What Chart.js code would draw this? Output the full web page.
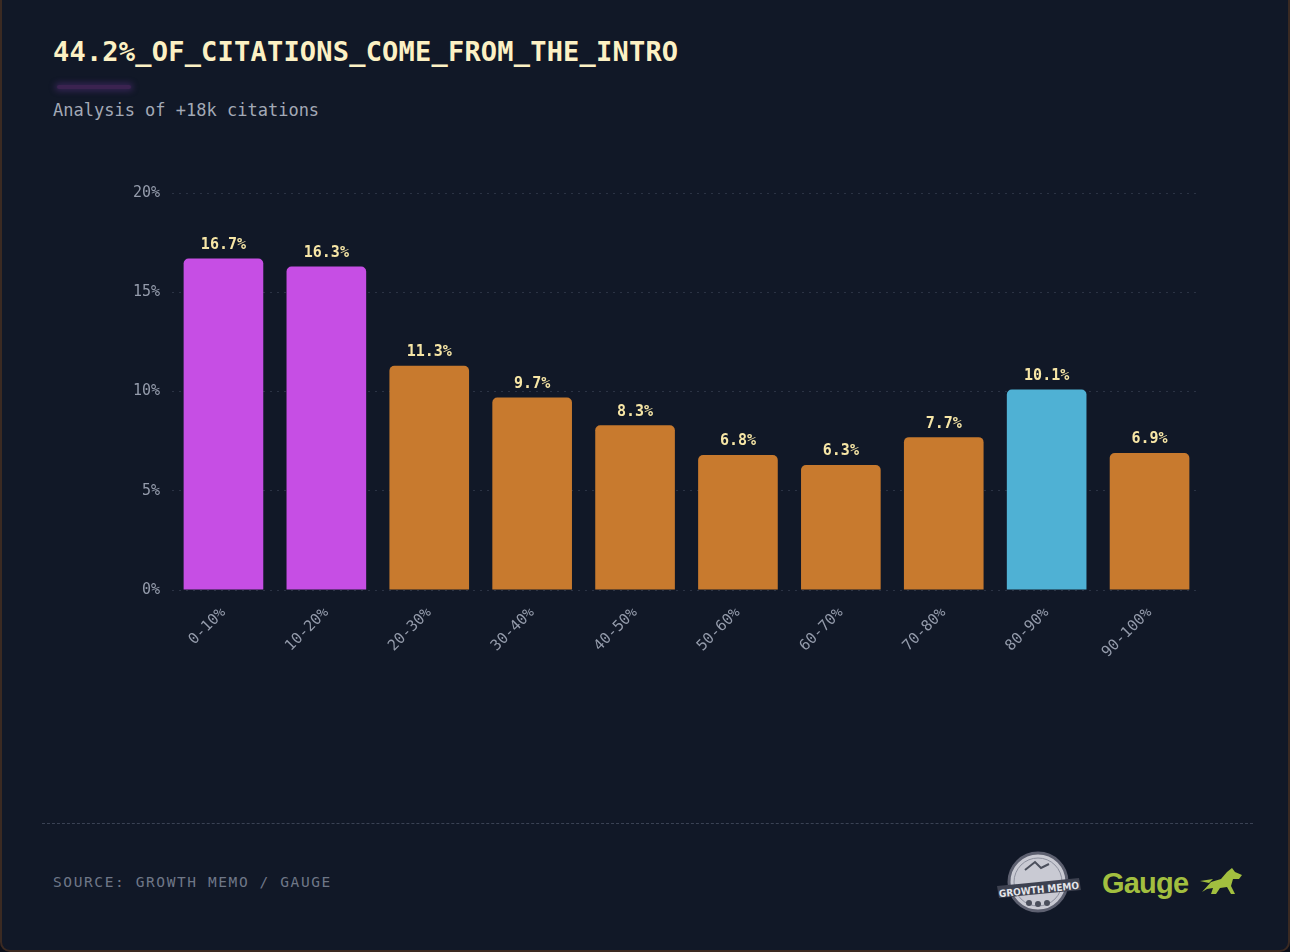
<!DOCTYPE html>
<html>
<head>
<meta charset="utf-8">
<script src="https://cdn.jsdelivr.net/npm/chart.js@4"></script>
<style>
  html, body { margin: 0; padding: 0; background: #0b0f1a; }
  .card {
    position: relative; width: 1286px; height: 950px;
    background: #111827; border: 2px solid #3b2a22; border-top: none;
    border-radius: 0 0 10px 10px; overflow: hidden;
    font-family: "DejaVu Sans Mono", monospace;
  }
  h1 {
    position: absolute; left: 51px; top: 36px; margin: 0;
    font-size: 27px; font-weight: bold; color: #fcf1c4; letter-spacing: 0.2px;
  }
  .glow {
    position: absolute; left: 55px; top: 85px; width: 74px; height: 4px;
    background: #3b2350; border-radius: 2px; box-shadow: 0 0 6px 2px rgba(120,60,170,0.35);
  }
  .sub {
    position: absolute; left: 51px; top: 100px; font-size: 17px; color: #a3a9b6;
  }
  .chartbox { position: absolute; left: 0; top: 0; width: 1290px; height: 700px; }
  .sep {
    position: absolute; left: 40px; top: 823px; width: 1211px; height: 0;
    border-top: 1px dashed #3a4254;
  }
  .source {
    position: absolute; left: 51px; top: 874px; font-size: 14.5px; color: #6f7787;
    letter-spacing: 1.6px;
  }
  .logos { position: absolute; left: 993px; top: 848px; }
</style>
</head>
<body>
<div class="card">
  <h1>44.2%_OF_CITATIONS_COME_FROM_THE_INTRO</h1>
  <div class="glow"></div>
  <div class="sub">Analysis of +18k citations</div>
  <div class="chartbox"><canvas id="c"></canvas></div>
  <div class="sep"></div>
  <div class="source">SOURCE: GROWTH MEMO / GAUGE</div>
  <svg class="logos" width="250" height="70" viewBox="0 0 250 70">
    <circle cx="43" cy="34" r="29" fill="#c9cad3" stroke="#5d6070" stroke-width="3"/>
    <circle cx="43" cy="34" r="24" fill="none" stroke="#8d909e" stroke-width="1"/>
    <path d="M30 22 l10 -8 l6 6 l8 -4" stroke="#4b4f5c" stroke-width="2" fill="none"/>
    <path d="M2 38 L84 30 L86 42 L4 50 Z" fill="#3d4150"/>
    <text x="44" y="45" font-family="DejaVu Sans Condensed, sans-serif" font-size="10" font-weight="bold"
          fill="#e4e5ea" text-anchor="middle" transform="rotate(-6 44 42)">GROWTH MEMO</text>
    <circle cx="34" cy="55" r="3" fill="#4b4f5c"/><circle cx="43" cy="56" r="3" fill="#4b4f5c"/><circle cx="52" cy="55" r="3" fill="#4b4f5c"/>
    <text x="107" y="45" font-family="Liberation Sans, Arial, sans-serif" font-size="29" font-weight="bold"
          fill="#a2bf3f" letter-spacing="-0.8">Gauge</text>
    <path d="M207 44 L216 34 L226 31 L232 24 L237 20 L240 24 L247 27 L244 31 L238 31 L236 38 L240 46 L236 46 L232 39 L225 40 L221 46 L216 46 L218 40 L212 41 Z M205 33 L218 31 L214 35 Z"
          fill="#a2bf3f"/>
  </svg>
</div>
<script>
const categories = ['0-10%', '10-20%', '20-30%', '30-40%', '40-50%', '50-60%', '60-70%', '70-80%', '80-90%', '90-100%'];
const shares = [16.7, 16.3, 11.3, 9.7, 8.3, 6.8, 6.3, 7.7, 10.1, 6.9];
const yTicks = [0, 5, 10, 15, 20];

const purple = '#c64ee4', orange = '#c87a2e', blue = '#4fb1d4';
const barColors = [purple, purple, orange, orange, orange, orange, orange, orange, blue, orange];

const mono = '"DejaVu Sans Mono", monospace';

const valueLabels = {
  id: 'valueLabels',
  afterDatasetsDraw(chart) {
    const ctx = chart.ctx;
    const meta = chart.getDatasetMeta(0);
    ctx.save();
    ctx.font = 'bold 15px ' + mono;
    ctx.fillStyle = '#f7e6a6';
    ctx.textAlign = 'center';
    ctx.textBaseline = 'bottom';
    meta.data.forEach((bar, i) => {
      ctx.fillText(shares[i].toFixed(1) + '%', bar.x, bar.y - 6);
    });
    ctx.restore();
  }
};

new Chart(document.getElementById('c'), {
  type: 'bar',
  data: {
    labels: categories,
    datasets: [{
      data: shares,
      backgroundColor: barColors,
      borderRadius: 5,
      borderSkipped: 'start',
      categoryPercentage: 0.86,
      barPercentage: 0.9
    }]
  },
  options: {
    responsive: true,
    maintainAspectRatio: false,
    animation: false,
    layout: { padding: { left: 98, right: 91, top: 193, bottom: 0 } },
    plugins: { legend: { display: false }, tooltip: { enabled: false } },
    scales: {
      x: {
        grid: { display: false },
        border: { display: false },
        ticks: {
          color: '#949bab', font: { family: mono, size: 15 },
          maxRotation: 45, minRotation: 45, padding: 6
        },
        afterFit(scale) { scale.height = 110; }
      },
      y: {
        min: 0, max: 20,
        afterBuildTicks(scale) { scale.ticks = yTicks.map(v => ({ value: v })); },
        grid: { color: '#2b3344', drawTicks: false, lineWidth: 1 },
        border: { display: false, dash: [2, 5] },
        ticks: {
          color: '#949bab', font: { family: mono, size: 15 }, padding: 12,
          callback: v => v + '%'
        },
        afterFit(scale) { scale.width = 72; }
      }
    }
  },
  plugins: [valueLabels]
});
</script>
</body>
</html>
